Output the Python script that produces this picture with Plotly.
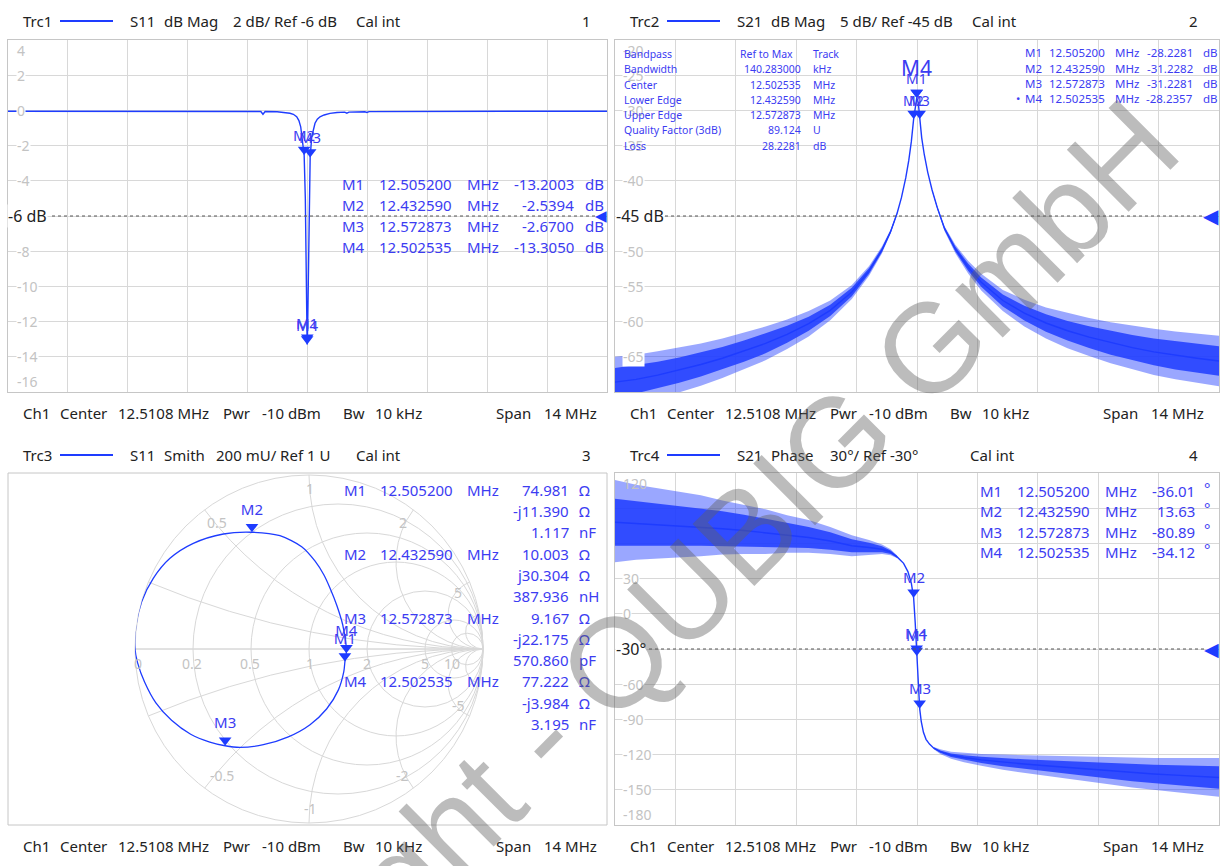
import numpy as np
import plotly.graph_objects as go

W, H = 1223, 866
FONT = "Noto Sans"
SYM = "DejaVu Sans"
TRACE = "#1e3cff"
MTXT = "#3c3cf2"
GRID = "#d8d8d8"
BORDER = "#c6c6c6"
TICK = "#c3c3c3"
DARK = "#222222"


def PX(x):
    return x / W


def PY(y):
    return 1 - y / H


# ------------------------------------------------------------------ channel
F_START = 5.5108   # MHz  (Center 12.5108 MHz, Span 14 MHz)
F_STOP = 19.5108

# ------------------------------------------------------------------ markers
mk_names = ["M1", "M2", "M3", "M4"]
mk_freq = [12.505200, 12.432590, 12.572873, 12.502535]
mk_s11_db = [-13.2003, -2.5394, -2.6700, -13.3050]
mk_s21_db = [-28.2281, -31.2282, -31.2281, -28.2357]
mk_s21_ph = [-36.01, 13.63, -80.89, -34.12]
mk_z_re = [74.981, 10.003, 9.167, 77.222]      # Ohm
mk_z_im = [-11.390, 30.304, -22.175, -3.984]   # Ohm
mk_lc = ["1.117 nF", "387.936 nH", "570.860 pF", "3.195 nF"]

bp_labels = ["Bandpass", "Bandwidth", "Center", "Lower Edge", "Upper Edge",
             "Quality Factor (3dB)", "Loss"]
bp_values = ["Ref to Max", "140.283000", "12.502535", "12.432590", "12.572873",
             "89.124", "28.2281"]
bp_units = ["Track", "kHz", "MHz", "MHz", "MHz", "U", "dB"]

# ------------------------------------------------------------------ Trc1 S11 dB Mag
s11_freq = [5.5108, 6.5, 7.5, 8.5, 9.5, 10.5, 11.2, 11.42, 11.47, 11.52, 11.8, 12.0,
            12.1, 12.18, 12.258, 12.31, 12.352, 12.399, 12.4326, 12.46, 12.48, 12.495,
            12.5025, 12.5052, 12.515, 12.535, 12.555, 12.5729, 12.61, 12.65, 12.686,
            12.74, 12.803, 12.9, 13.037, 13.2, 13.38, 13.43, 13.48, 13.85, 13.9, 13.95,
            14.5, 15.5, 16.5, 17.5, 18.5, 19.5108]
s11_db = [-0.05, -0.05, -0.05, -0.05, -0.05, -0.05, -0.06, -0.06, -0.22, -0.06, -0.08,
          -0.12, -0.16, -0.22, -0.36, -0.58, -0.93, -1.87, -2.5394, -5.0, -9.0, -12.6,
          -13.305, -13.2003, -12.2, -8.0, -4.6, -2.67, -1.5, -0.98, -0.73, -0.5, -0.36,
          -0.26, -0.17, -0.12, -0.1, -0.16, -0.1, -0.08, -0.12, -0.07, -0.06, -0.05,
          -0.05, -0.05, -0.05, -0.05]

# ------------------------------------------------------------------ Trc2 S21 dB Mag
s21_freq = [5.5108, 6.0, 6.5, 7.0, 7.5, 8.0, 8.5, 9.0, 9.5, 10.0, 10.5, 11.0, 11.4, 11.7,
            11.9, 12.05, 12.15, 12.25, 12.32, 12.38, 12.4326, 12.47, 12.5025, 12.5052,
            12.54, 12.5729, 12.62, 12.68, 12.76, 12.86, 12.98, 13.15, 13.4, 13.7, 14.0,
            14.5, 15.0, 15.5, 16.0, 16.5, 17.0, 17.5, 18.0, 18.5, 19.0, 19.5108]
s21_db = [-68.6, -68.2, -67.6, -66.9, -66.1, -65.2, -64.2, -63.1, -61.8, -60.3, -58.4,
          -55.8, -52.8, -49.8, -47.2, -44.6, -42.4, -39.6, -37.1, -34.4, -31.23, -29.3,
          -28.24, -28.23, -28.9, -31.23, -33.9, -36.3, -38.8, -41.3, -43.8, -46.8, -49.7,
          -52.3, -54.4, -57.0, -58.8, -60.2, -61.3, -62.2, -63.0, -63.7, -64.3, -64.8,
          -65.2, -65.6]
# noise envelope, low-frequency side
s21_nl_freq = [5.5108, 6.0, 6.5, 7.0, 7.5, 8.0, 8.5, 9.0, 9.5, 10.0, 10.5, 11.0, 11.4,
               11.7, 11.9, 12.05]
s21_nl_hi = [-66.6, -66.2, -65.7, -65.1, -64.4, -63.6, -62.7, -61.7, -60.6, -59.3, -57.6,
             -55.2, -52.4, -49.5, -47.0, -44.5]
s21_nl_lo = [-70.6, -70.2, -69.5, -68.7, -67.8, -66.8, -65.7, -64.5, -63.0, -61.3, -59.2,
             -56.4, -53.2, -50.1, -47.4, -44.7]
s21_nl_pk_hi = [-65.0, -64.7, -64.2, -63.7, -63.1, -62.4, -61.6, -60.7, -59.7, -58.5,
                -57.0, -54.8, -52.1, -49.3, -46.9, -44.4]
s21_nl_pk_lo = [-72.2, -71.7, -71.0, -70.1, -69.1, -68.0, -66.8, -65.5, -63.9, -62.1,
                -59.8, -56.8, -53.5, -50.3, -47.5, -44.8]
# noise envelope, high-frequency side
s21_nh_freq = [12.86, 12.98, 13.15, 13.4, 13.7, 14.0, 14.5, 15.0, 15.5, 16.0, 16.5, 17.0,
               17.5, 18.0, 18.5, 19.0, 19.5108]
s21_nh_hi = [-41.25, -43.7, -46.6, -49.35, -51.8, -53.75, -56.15, -57.75, -58.95, -59.9,
             -60.65, -61.3, -61.9, -62.4, -62.8, -63.15, -63.5]
s21_nh_lo = [-41.35, -43.9, -47.0, -50.05, -52.8, -55.05, -57.85, -59.85, -61.45, -62.7,
             -63.75, -64.7, -65.5, -66.2, -66.8, -67.25, -67.7]
s21_nh_pk_hi = [-41.2, -43.6, -46.45, -49.1, -51.4, -53.2, -55.5, -56.9, -58.0, -58.8,
                -59.5, -60.1, -60.6, -61.0, -61.4, -61.7, -62.0]
s21_nh_pk_lo = [-41.4, -44.0, -47.15, -50.3, -53.2, -55.6, -58.5, -60.7, -62.4, -63.8,
                -64.9, -65.9, -66.8, -67.6, -68.2, -68.7, -69.2]

# ------------------------------------------------------------------ Trc4 S21 Phase
ph_freq = [5.5108, 6.0, 6.5, 7.0, 7.5, 8.0, 8.5, 9.0, 9.5, 10.0, 10.5, 11.0, 11.4, 11.7,
           11.9, 12.05, 12.2, 12.3, 12.38, 12.4326, 12.47, 12.5025, 12.5052, 12.54,
           12.5729, 12.61, 12.66, 12.72, 12.8, 12.9, 13.05, 13.3, 13.6, 14.0, 14.5, 15.0,
           15.5, 16.0, 16.5, 17.0, 17.5, 18.0, 18.5, 19.0, 19.5108]
ph_deg = [78, 77, 76, 75, 74, 72.5, 71, 69, 67, 65, 62, 58, 56.5, 55, 52.5, 48.5, 43, 36,
          26, 13.63, -8, -34.12, -36.01, -60, -80.89, -92, -101, -107, -111, -114.5,
          -117.5, -120.5, -122.5, -124.5, -126.5, -128, -129.5, -131, -132.5, -134,
          -135.5, -136.5, -137.5, -138.5, -139.5]
ph_nl_freq = [5.5108, 6.0, 6.5, 7.0, 7.5, 8.0, 8.5, 9.0, 9.5, 10.0, 10.5, 11.0, 11.4,
              11.7, 11.9, 12.05]
ph_nl_hi = [98, 96, 94, 92, 90, 87.5, 84.5, 81, 77.5, 74, 69.5, 63.5, 60.5, 57.5, 54, 49.3]
ph_nl_lo = [58, 58, 58, 58, 58, 57.5, 57.5, 57, 56.5, 56, 54.5, 52.5, 52.5, 52.5, 51, 47.7]
ph_nl_pk_hi = [114, 110, 107, 104, 101, 96.5, 93, 89, 84, 80, 74, 67, 63, 59, 55, 49.7]
ph_nl_pk_lo = [44, 46, 47, 48, 49, 50.5, 51, 51, 52, 52, 51, 49, 50, 51, 50, 47.3]
ph_nh_freq = [12.9, 13.05, 13.3, 13.6, 14.0, 14.5, 15.0, 15.5, 16.0, 16.5, 17.0, 17.5,
              18.0, 18.5, 19.0, 19.5108]
ph_nh_hi = [-114, -116.5, -119, -120.5, -121.8, -123.1, -124, -124.8, -125.7, -126.5,
            -127.4, -128.3, -128.7, -129.1, -129.5, -130]
ph_nh_lo = [-115, -118.5, -122, -124.5, -127.2, -129.9, -132, -134.2, -136.3, -138.5,
            -140.6, -142.7, -144.3, -145.9, -147.5, -149]
ph_nh_pk_hi = [-113.5, -115.5, -117.5, -118.5, -119.5, -120, -120.5, -121, -121.5, -122,
               -122.5, -123, -123, -123, -123, -123]
ph_nh_pk_lo = [-115.5, -119.5, -123.5, -126.5, -129.5, -133, -135.5, -138, -140.5, -143,
               -145.5, -148, -150, -152, -154, -156]

# ------------------------------------------------------------------ Trc3 S11 Smith (reflection coefficient)
smith_gamma_re = [-1.0, -0.994, -0.962, -0.895, -0.799, -0.665, -0.492, -0.329, -0.167,
                  -0.042, 0.034, 0.086, 0.121, 0.159, 0.194, 0.213, 0.2146, 0.2065, 0.2,
                  0.169, 0.101, 0.006, -0.119, -0.262, -0.397, -0.482, -0.57, -0.68,
                  -0.79, -0.88, -0.945, -0.985, -1.0]
smith_gamma_im = [0.0, 0.138, 0.272, 0.406, 0.521, 0.607, 0.661, 0.671, 0.651, 0.588,
                  0.506, 0.425, 0.349, 0.253, 0.138, 0.023, -0.0246, -0.0723, -0.13,
                  -0.235, -0.345, -0.435, -0.505, -0.55, -0.565, -0.556, -0.535, -0.49,
                  -0.41, -0.31, -0.19, -0.08, 0.0]
smith_real_grid = [0.2, 0.5, 1, 2, 5, 10]
smith_imag_grid = [-10, -5, -2, -1, -0.5, -0.2, 0, 0.2, 0.5, 1, 2, 5, 10]

# ------------------------------------------------------------------ axis tick labels
tl_ticks = [4, 2, 0, -2, -4, -8, -10, -12, -14, -16]
tr_ticks = [-20, -25, -30, -35, -40, -50, -55, -60, -65]
br_ticks = [120, 30, 0, -60, -90, -120, -150, -180]

fig = go.Figure()
ann = []
shapes = []


def txt(x, y, s, size=15, color=DARK, xa="left", ya="middle", family=FONT, **kw):
    d = dict(x=PX(x), y=PY(y), xref="paper", yref="paper", text=s, showarrow=False,
             xanchor=xa, yanchor=ya, font=dict(family=family, size=size, color=color))
    d.update(kw)
    ann.append(d)


def band(f, hi, lo, color, xa, ya):
    fig.add_trace(go.Scatter(x=list(f) + list(f)[::-1], y=list(hi) + list(lo)[::-1],
                             fill="toself", fillcolor=color, mode="lines",
                             line=dict(width=0, color=color), xaxis=xa, yaxis=ya,
                             hoverinfo="skip"))


# marker symbol: a down-pointing triangle whose tip sits on the value
MK = dict(symbol="triangle-up", angle=180, size=11, standoff=5.5, color=TRACE)

# ---------------- Trc1
fig.add_trace(go.Scatter(x=s11_freq, y=s11_db, mode="lines",
                         line=dict(color=TRACE, width=1.4), xaxis="x", yaxis="y",
                         hoverinfo="skip"))

# ---------------- Trc2
OUT = "rgba(30,60,255,0.45)"
INN = "rgba(30,60,255,0.85)"
band(s21_nl_freq, s21_nl_pk_hi, s21_nl_pk_lo, OUT, "x2", "y2")
band(s21_nh_freq, s21_nh_pk_hi, s21_nh_pk_lo, OUT, "x2", "y2")
band(s21_nl_freq, s21_nl_hi, s21_nl_lo, INN, "x2", "y2")
band(s21_nh_freq, s21_nh_hi, s21_nh_lo, INN, "x2", "y2")
fig.add_trace(go.Scatter(x=s21_freq, y=s21_db, mode="lines",
                         line=dict(color=TRACE, width=1.4), xaxis="x2", yaxis="y2",
                         hoverinfo="skip"))

# ---------------- Trc4
band(ph_nl_freq, ph_nl_pk_hi, ph_nl_pk_lo, OUT, "x3", "y3")
band(ph_nh_freq, ph_nh_pk_hi, ph_nh_pk_lo, OUT, "x3", "y3")
band(ph_nl_freq, ph_nl_hi, ph_nl_lo, INN, "x3", "y3")
band(ph_nh_freq, ph_nh_hi, ph_nh_lo, INN, "x3", "y3")
fig.add_trace(go.Scatter(x=ph_freq, y=ph_deg, mode="lines",
                         line=dict(color=TRACE, width=1.4), xaxis="x3", yaxis="y3",
                         hoverinfo="skip"))

# ---------------- marker triangles on cartesian traces
for xa, ya, vals in (("x", "y", mk_s11_db), ("x2", "y2", mk_s21_db), ("x3", "y3", mk_s21_ph)):
    fig.add_trace(go.Scatter(x=mk_freq, y=vals, mode="markers", cliponaxis=False,
                             marker=MK, xaxis=xa, yaxis=ya, hoverinfo="skip"))

# ---------------- Trc3 Smith
g = np.array(smith_gamma_re) + 1j * np.array(smith_gamma_im)
z = (1 + g) / (1 - g)
fig.add_trace(go.Scattersmith(real=z.real, imag=z.imag, mode="lines",
                              line=dict(color=TRACE, width=1.3, shape="spline", smoothing=0.8),
                              subplot="smith", hoverinfo="skip"))
zm = (np.array(mk_z_re) + 1j * np.array(mk_z_im)) / 50.0
fig.add_trace(go.Scattersmith(real=zm.real, imag=zm.imag, mode="markers", marker=MK,
                              subplot="smith", hoverinfo="skip"))
fig.add_trace(go.Scattersmith(real=zm.real, imag=zm.imag, mode="markers+text",
                              text=mk_names, textposition="top center",
                              textfont=dict(family=FONT, size=15, color=MTXT),
                              marker=dict(size=20, color="rgba(0,0,0,0)"),
                              subplot="smith", hoverinfo="skip"))

# ---------------- axis tick labels (grey, inside)
for i, v in enumerate(tl_ticks):
    ya = "top" if i == 0 else ("bottom" if i == len(tl_ticks) - 1 else "middle")
    ann.append(dict(x=PX(16), y=v, xref="paper", yref="y", text=str(v), showarrow=False,
                    xanchor="left", yanchor=ya, bgcolor="white" if ya == "middle" else None,
                    borderpad=0, font=dict(family=FONT, size=14, color=TICK)))
for i, v in enumerate(tr_ticks):
    ya = "top" if i == 0 else "middle"
    ann.append(dict(x=PX(622), y=v, xref="paper", yref="y2", text=str(v), showarrow=False,
                    xanchor="left", yanchor=ya, bgcolor="white" if ya == "middle" else None,
                    borderpad=0, font=dict(family=FONT, size=14, color=TICK)))
for i, v in enumerate(br_ticks):
    ya = "top" if i == 0 else ("bottom" if i == len(br_ticks) - 1 else "middle")
    ann.append(dict(x=PX(622), y=v, xref="paper", yref="y3", text=str(v), showarrow=False,
                    xanchor="left", yanchor=ya, bgcolor="white" if ya == "middle" else None,
                    borderpad=0, font=dict(family=FONT, size=14, color=TICK)))

# Smith grid labels
for s, x, y in (("0", 138, 663), ("0.2", 192, 663), ("0.5", 250, 663), ("1", 310, 663),
                ("2", 367, 663), ("5", 425, 663), ("10", 452, 663),
                ("1", 310, 488), ("0.5", 217, 522), ("2", 403, 522), ("5", 458, 592),
                ("-0.5", 222, 775), ("-1", 310, 808), ("-2", 402, 775), ("-5", 458, 705)):
    txt(x, y, s, size=14, color=TICK, xa="center")

# ---------------- reference lines / labels / triangles
for yref, val, x0, x1, label, lx in (("y", -6, 52, 598, "-6 dB", 7),
                                    ("y2", -45, 665, 1203, "-45 dB", 615),
                                    ("y3", -30, 649, 1205, "-30°", 615)):
    shapes.append(dict(type="line", xref="paper", yref=yref, x0=PX(x0), x1=PX(x1),
                       y0=val, y1=val, line=dict(color="#555555", width=1, dash="dot")))
    ann.append(dict(x=PX(lx), y=val, xref="paper", yref=yref, text=label, showarrow=False,
                    xanchor="left", yanchor="middle", bgcolor="white", borderpad=0,
                    font=dict(family=FONT, size=16, color=DARK)))
for yref, val, xr, sz in (("y", -6, 608, 15), ("y2", -45, 1220, 20), ("y3", -30, 1220, 19)):
    ann.append(dict(x=PX(xr), y=val, xref="paper", yref=yref, text="◀", showarrow=False,
                    xanchor="right", yanchor="middle", borderpad=0,
                    font=dict(family=SYM, size=sz, color=TRACE)))

# ---------------- marker labels on traces
for i, nm in enumerate(mk_names):
    ann.append(dict(x=mk_freq[i], y=mk_s11_db[i], xref="x", yref="y", text=nm,
                    showarrow=False, yanchor="middle", yshift=20,
                    font=dict(family=FONT, size=15, color=MTXT)))
    big = nm == "M4"
    ann.append(dict(x=mk_freq[i], y=mk_s21_db[i], xref="x2", yref="y2", text=nm,
                    showarrow=False, yanchor="middle", yshift=30 if big else 19,
                    font=dict(family=FONT, size=21 if big else 14, color=MTXT)))
    ann.append(dict(x=mk_freq[i], y=mk_s21_ph[i], xref="x3", yref="y3", text=nm,
                    showarrow=False, yanchor="middle", yshift=21,
                    font=dict(family=FONT, size=15, color=MTXT)))

# ---------------- marker tables
for i, nm in enumerate(mk_names):
    y = 184 + 21 * i
    txt(340, y, nm, color=MTXT)
    txt(377, y, f"{mk_freq[i]:.6f}", color=MTXT)
    txt(465, y, "MHz", color=MTXT)
    txt(576, y, f"{mk_s11_db[i]:.4f}", color=MTXT, xa="right")
    txt(583, y, "dB", color=MTXT)

    y = 53 + 15.3 * i
    txt(1023, y, nm, size=11.5, color=MTXT)
    if nm == "M4":
        txt(1022, y, "•", size=11.5, color=MTXT, xa="right")
    txt(1047, y, f"{mk_freq[i]:.6f}", size=11.5, color=MTXT)
    txt(1113, y, "MHz", size=11.5, color=MTXT)
    txt(1195, y, f"{mk_s21_db[i]:.4f}", size=11.5, color=MTXT, xa="right")
    txt(1201, y, "dB", size=11.5, color=MTXT)

    y = 491 + 20.3 * i
    txt(978, y, nm, color=MTXT)
    txt(1015, y, f"{mk_freq[i]:.6f}", color=MTXT)
    txt(1103, y, "MHz", color=MTXT)
    txt(1197, y, f"{mk_s21_ph[i]:.2f}", color=MTXT, xa="right")
    txt(1202, y - 3, "°", color=MTXT)

    y0 = 490 + 63.8 * i
    txt(342, y0, nm, color=MTXT)
    txt(378, y0, f"{mk_freq[i]:.6f}", color=MTXT)
    txt(465, y0, "MHz", color=MTXT)
    im = mk_z_im[i]
    lc_val, lc_unit = mk_lc[i].split(" ")
    rows = [(f"{mk_z_re[i]:.3f}", "Ω"),
            (("-j" if im < 0 else "j") + f"{abs(im):.3f}", "Ω"),
            (lc_val, lc_unit)]
    for k, (v, u) in enumerate(rows):
        yy = y0 + 21.2 * k
        txt(571, yy, v, color=MTXT, xa="right")
        txt(577, yy, u, color=MTXT)

# bandpass search table
for k in range(len(bp_labels)):
    y = 54 + 15.3 * k
    txt(622, y, bp_labels[k], size=10.5, color=MTXT)
    if k == 0:
        txt(738, y, bp_values[k], size=10.5, color=MTXT)
    else:
        txt(803, y, bp_values[k], size=10.5, color=MTXT, xa="right")
    txt(811, y, bp_units[k], size=10.5, color=MTXT)

# ---------------- headers / footers
for (x0, y0, trc, segs, num) in (
        (0, 21, "Trc1", [(128, "S11"), (162, "dB Mag"), (231, "2 dB/ Ref -6 dB"), (354, "Cal int")], "1"),
        (607, 21, "Trc2", [(128, "S21"), (162, "dB Mag"), (231, "5 dB/ Ref -45 dB"), (363, "Cal int")], "2"),
        (0, 455, "Trc3", [(128, "S11"), (162, "Smith"), (214, "200 mU/ Ref 1 U"), (354, "Cal int")], "3"),
        (607, 455, "Trc4", [(128, "S21"), (162, "Phase"), (221, "30°/ Ref -30°"), (361, "Cal int")], "4")):
    txt(x0 + 21, y0, trc, size=15)
    shapes.append(dict(type="line", xref="paper", yref="paper", x0=PX(x0 + 60), x1=PX(x0 + 113),
                       y0=PY(y0), y1=PY(y0), line=dict(color=TRACE, width=2)))
    for sx, s in segs:
        txt(x0 + sx, y0, s, size=15)
    txt(x0 + 593, y0, num, size=15, xa="right")

for (x0, y0) in ((0, 413), (607, 413), (0, 846), (607, 846)):
    for sx, s in ((21, "Ch1"), (58, "Center"), (116, "12.5108 MHz"), (221, "Pwr"),
                  (260, "-10 dBm"), (341, "Bw"), (373, "10 kHz")):
        txt(x0 + sx, y0, s, size=15)
    txt(x0 + 494, y0, "Span", size=15)
    txt(x0 + 599, y0, "14 MHz", size=15, xa="right")

# Smith panel border
shapes.append(dict(type="rect", xref="paper", yref="paper", x0=PX(8), x1=PX(607),
                   y0=PY(825), y1=PY(473), line=dict(color=BORDER, width=1)))

# ---------------- watermark
txt(636, 642, "Copyright - QUBIG GmbH", size=127, color="rgba(95,95,95,0.42)",
    xa="center", ya="middle", family="Liberation Sans", textangle=-45)


def ax(domain, rng, tick0, dtick, anchor):
    return dict(domain=domain, range=rng, tick0=tick0, dtick=dtick, anchor=anchor,
                showticklabels=False, ticks="", zeroline=False, showline=True,
                linecolor=BORDER, linewidth=1, mirror=True, showgrid=True,
                gridcolor=GRID, gridwidth=1, fixedrange=True)


span_div = (F_STOP - F_START) / 10
fig.update_layout(
    width=W, height=H, autosize=False, margin=dict(l=0, r=0, t=0, b=0),
    paper_bgcolor="white", plot_bgcolor="white", showlegend=False,
    xaxis=ax([PX(8), PX(607)], [F_START, F_STOP], F_START, span_div, "y"),
    yaxis=ax([PY(392), PY(40)], [-16, 4], -16, 2, "x"),
    xaxis2=ax([PX(615), PX(1219)], [F_START, F_STOP], F_START, span_div, "y2"),
    yaxis2=ax([PY(392), PY(40)], [-70, -20], -70, 5, "x2"),
    xaxis3=ax([PX(615), PX(1219)], [F_START, F_STOP], F_START, span_div, "y3"),
    yaxis3=ax([PY(825), PY(473)], [-180, 120], -180, 30, "x3"),
    smith=dict(
        domain=dict(x=[PX(135), PX(483)], y=[PY(823), PY(475)]),
        bgcolor="rgba(0,0,0,0)",
        realaxis=dict(tickvals=smith_real_grid, showticklabels=False, ticks="",
                      showgrid=True, gridcolor=GRID, showline=True, linecolor=GRID,
                      layer="below traces"),
        imaginaryaxis=dict(tickvals=smith_imag_grid, showticklabels=False, ticks="",
                           showgrid=True, gridcolor=GRID, showline=True, linecolor=GRID,
                           layer="below traces"),
    ),
    annotations=ann, shapes=shapes,
)

fig.write_html("out.html", config={"displayModeBar": False},
               post_script="document.body.style.margin='0';")
